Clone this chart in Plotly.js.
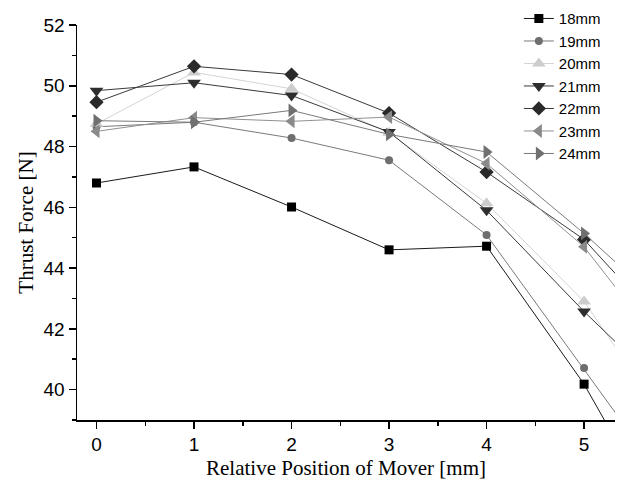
<!DOCTYPE html>
<html>
<head>
<meta charset="utf-8">
<script src="https://cdn.plot.ly/plotly-3.0.1.min.js"></script>
<style>html,body{margin:0;padding:0;background:#fff;}#chart{width:618px;height:480px;}</style>
</head>
<body>
<div id="chart"></div>
<script>
const positions = [0, 1, 2, 3, 4, 5, 6];
const seriesNames = ["18mm", "19mm", "20mm", "21mm", "22mm", "23mm", "24mm"];
const force18 = [46.80, 47.33, 46.01, 44.60, 44.72, 40.18, 34.50];
const force19 = [48.65, 48.80, 48.28, 47.55, 45.09, 40.71, 36.23];
const force20 = [48.75, 50.44, 49.90, 48.45, 46.13, 42.90, 38.24];
const force21 = [49.84, 50.10, 49.68, 48.48, 45.90, 42.57, 39.47];
const force22 = [49.46, 50.64, 50.37, 49.10, 47.16, 44.94, 41.44];
const force23 = [48.50, 48.95, 48.83, 48.97, 47.44, 44.70, 40.57];
const force24 = [48.85, 48.80, 49.19, 48.40, 47.82, 45.14, 42.21];
const xTickVals = [0, 1, 2, 3, 4, 5];
const yTickVals = [40, 42, 44, 46, 48, 50, 52];

const allValues = [force18, force19, force20, force21, force22, force23, force24];
const symbols = ["square", "circle", "triangle-up", "triangle-down", "diamond", "triangle-left", "triangle-right"];
const markerColors = ["#000000", "#6e6e6e", "#cdcdcd", "#2e2e2e", "#2a2a2a", "#8a8a8a", "#707070"];
const lineColors = ["#1a1a1a", "#7a7a7a", "#d4d4d4", "#3a3a3a", "#3a3a3a", "#909090", "#7a7a7a"];
const markerSizes = [9, 8, 12, 12, 11, 12, 12];

const traces = allValues.map((vals, i) => ({
  type: "scatter",
  mode: "lines+markers",
  name: seriesNames[i],
  x: positions,
  y: vals,
  line: {color: lineColors[i], width: 1},
  marker: {symbol: symbols[i], color: markerColors[i], size: markerSizes[i], line: {width: 0}},
  cliponaxis: true
}));

const layout = {
  width: 618, height: 480,
  margin: {l: 77, r: 3, t: 24, b: 60},
  paper_bgcolor: "#fff", plot_bgcolor: "#fff",
  showlegend: true,
  legend: {
    x: 0.983, xanchor: "right", y: 1.055, yanchor: "top",
    bgcolor: "rgba(0,0,0,0)",
    font: {family: "Liberation Sans, Arial, sans-serif", size: 15, color: "#000"},
    tracegroupgap: 0, itemwidth: 30
  },
  xaxis: {
    range: [-0.2, 5.317],
    tickvals: xTickVals,
    ticks: "outside", ticklen: 7, tickwidth: 1.5, tickcolor: "#000",
    minor: {dtick: 0.5, tick0: 0, ticks: "outside", ticklen: 4, tickwidth: 1.5, tickcolor: "#000"},
    showline: true, linecolor: "#000", linewidth: 1.5,
    showgrid: false, zeroline: false,
    tickfont: {family: "Liberation Sans, Arial, sans-serif", size: 19, color: "#000"},
    title: {text: "Relative Position of Mover [mm]", standoff: 6,
            font: {family: "Liberation Serif, Times New Roman, serif", size: 21, color: "#000"}}
  },
  yaxis: {
    range: [39.0, 52.0],
    tickvals: yTickVals,
    ticks: "outside", ticklen: 7, tickwidth: 1.5, tickcolor: "#000",
    minor: {dtick: 1, tick0: 39, ticks: "outside", ticklen: 4, tickwidth: 1.5, tickcolor: "#000"},
    showline: true, linecolor: "#000", linewidth: 1.5,
    showgrid: false, zeroline: false,
    tickfont: {family: "Liberation Sans, Arial, sans-serif", size: 19, color: "#000"},
    title: {text: "Thrust Force [N]", standoff: 4,
            font: {family: "Liberation Serif, Times New Roman, serif", size: 21, color: "#000"}}
  }
};

Plotly.newPlot("chart", traces, layout, {displayModeBar: false, staticPlot: true});
</script>
</body>
</html>
